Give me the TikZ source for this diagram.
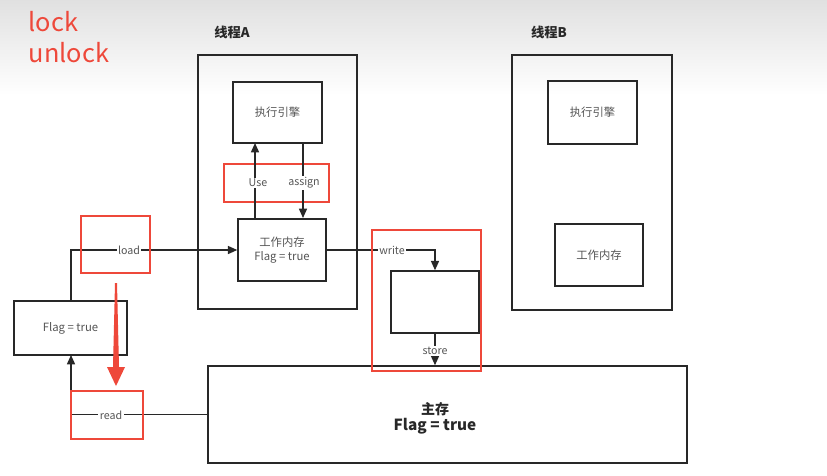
\documentclass[tikz,border=0pt]{standalone}
\usepackage{fontspec}
\setmainfont{Noto Sans CJK SC}
\usetikzlibrary{arrows.meta}
\definecolor{myred}{RGB}{238,72,58}
\definecolor{lbl}{RGB}{85,85,85}
\definecolor{edge}{RGB}{40,40,40}
\tikzset{
  box/.style={draw=edge,line width=1.1pt},
  redbox/.style={draw=myred,line width=1.6pt},
  lab/.style={fill=white,inner sep=1pt,text=lbl,font=\fontsize{8}{9}\selectfont},
  boxtxt/.style={text=lbl,font=\fontsize{8.5}{11}\selectfont,align=center},
  conn/.style={draw=edge,line width=1.1pt},
  arr/.style={conn,-{Triangle[length=7pt,width=6pt]}},
  title/.style={font=\bfseries\fontsize{10}{12}\selectfont,text=edge}
}
\begin{document}
\begin{tikzpicture}[x=0.75pt,y=-0.75pt]
\useasboundingbox (0,0) rectangle (827,475);
\shade[top color=black!12,bottom color=white] (0,0) rectangle (827,95);
\fill[white] (0,95) rectangle (827,475);
% lock unlock
\node[anchor=west,text=myred,font=\fontsize{19}{22}\selectfont] (lock) at (24,22) {lock};
\node[anchor=west,text=myred,font=\fontsize{19}{22}\selectfont] (unlock) at (24,53) {unlock};
% thread A
\node[title] (tA) at (232,32) {线程A};
\draw[box] (198,55) rectangle (357,309);
\coordinate (tAbox) at (277,182);
\node[box,minimum width=66.75pt,minimum height=45.75pt,boxtxt] (execA) at (277.5,112.5) {执行引擎};
\node[box,minimum width=66pt,minimum height=46.5pt,boxtxt] (workA) at (282,250) {工作内存\\Flag = true};
\draw[redbox] (224,164) rectangle (329,202);
\draw[arr] (255,218) -- (255,143);
\draw[arr] (303,143) -- (303,218);
\node[lab] (use) at (258,183) {Use};
\node[lab] (assign) at (304,183) {assign};
% thread B
\node[title] (tB) at (549,32) {线程B};
\draw[box] (512,55) rectangle (672,310);
\node[box,minimum width=66.75pt,minimum height=47.25pt,boxtxt] (execB) at (592.5,112.5) {执行引擎};
\node[box,minimum width=66pt,minimum height=46.5pt,boxtxt] (workB) at (599,255) {工作内存};
% left flag box
\node[box,minimum width=84.75pt,minimum height=40.5pt,boxtxt] (flag) at (70.5,328) {Flag = true};
% main memory
\node[box,minimum width=359.25pt,minimum height=72.75pt] (main) at (447.5,414.5) {};
\node[font=\bfseries\fontsize{10.5}{13}\selectfont,text=edge,align=center] (mainlbl) at (435,418) {主存\\[-1pt]{\fontsize{11.5}{13}\selectfont Flag = true}};
% store box
\node[box,minimum width=66pt,minimum height=46.5pt] (storebox) at (435,302) {};
% load
\draw[arr] (flag.north -| 71,0) |- (workA.west);
\node[lab] (load) at (129,250) {load};
\draw[redbox] (81,216) rectangle (150,273);
% read
\draw[arr] (main.west) -| (71,355);
\node[lab] (read) at (111,415) {read};
\draw[redbox] (71,391) rectangle (143,439);
% write
\draw[arr] (workA.east) -| (storebox.north);
\node[lab] (write) at (392,250) {write};
% store
\draw[arr] (storebox.south) -- (main.north -| storebox.south);
\node[lab] (store) at (435,351) {store};
\draw[redbox] (372,230) rectangle (481,371);
% big red arrow
\fill[myred] (115,283) -- (117,283) -- (119,367) -- (125,367) -- (116,386) -- (107,367) -- (113,367) -- cycle;
\end{tikzpicture}
\end{document}
